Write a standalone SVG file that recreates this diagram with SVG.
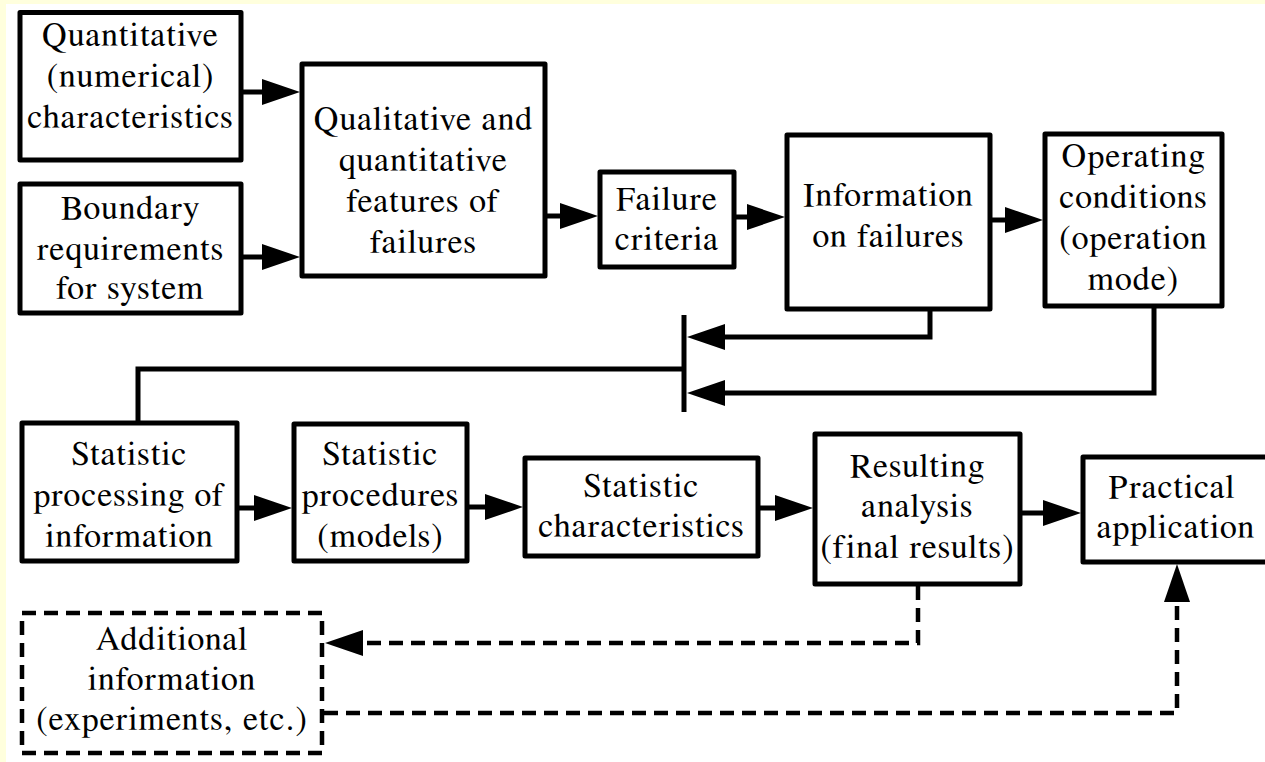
<svg xmlns="http://www.w3.org/2000/svg" width="1265" height="762" viewBox="0 0 1265 762">
<style>
.bg{fill:#ffffff}
.band{fill:#ffffdd}
.box{fill:#ffffff;stroke:#000;stroke-width:5;stroke-linejoin:round}
.dbox{fill:#ffffff;stroke:#000;stroke-width:4.5;stroke-dasharray:14 8}
text{font-family:FreeSerif,'Liberation Serif',serif;font-size:34px;letter-spacing:1.1px;fill:#000;text-anchor:middle}
.c{fill:none;stroke:#000;stroke-width:5}
.d{fill:none;stroke:#000;stroke-width:4.5;stroke-dasharray:14 8}
</style>
<defs>
<marker id="ah" markerUnits="userSpaceOnUse" markerWidth="40" markerHeight="28" refX="18" refY="13" orient="auto">
<path d="M0,0 L38,13 L0,26 z" fill="#000"/>
</marker>
</defs>
<rect class="bg" x="0" y="0" width="1265" height="762"/>
<rect class="band" x="0" y="0" width="1265" height="4"/>
<rect class="band" x="0" y="0" width="6" height="762"/>

<g id="connectors">
<path class="c" d="M243,92 H280" marker-end="url(#ah)"/>
<path class="c" d="M243,257 H280" marker-end="url(#ah)"/>
<path class="c" d="M547,216 H578" marker-end="url(#ah)"/>
<path class="c" d="M736,217 H765" marker-end="url(#ah)"/>
<path class="c" d="M992,220 H1023" marker-end="url(#ah)"/>
<path class="c" d="M930,311 V337 H707" marker-end="url(#ah)"/>
<path class="c" d="M1154,308 V393 H707" marker-end="url(#ah)"/>
<path class="c" d="M684,315 V412"/>
<path class="c" d="M684,369 H138 V421"/>
<path class="c" d="M239,508 H272" marker-end="url(#ah)"/>
<path class="c" d="M469,507 H503" marker-end="url(#ah)"/>
<path class="c" d="M760,508 H793" marker-end="url(#ah)"/>
<path class="c" d="M1022,513 H1061" marker-end="url(#ah)"/>
<path class="d" d="M918,586 V643 H345" marker-end="url(#ah)"/>
<path class="d" d="M324,713 H1177 V584" marker-end="url(#ah)"/>
</g>

<g id="n1">
<rect class="box" x="20" y="12.5" width="221" height="147.5"/>
<text x="130.5" y="46">Quantitative</text>
<text x="130.5" y="87">(numerical)</text>
<text x="130.5" y="128">characteristics</text>
</g>
<g id="n2">
<rect class="box" x="20" y="184" width="221" height="129"/>
<text x="130.5" y="219">Boundary</text>
<text x="130.5" y="260">requirements</text>
<text x="130.5" y="299">for system</text>
</g>
<g id="n3">
<rect class="box" x="302" y="64" width="243" height="212"/>
<text x="423.5" y="130">Qualitative and</text>
<text x="423.5" y="171">quantitative</text>
<text x="423.5" y="212">features of</text>
<text x="423.5" y="253">failures</text>
</g>
<g id="n4">
<rect class="box" x="600" y="172" width="134" height="95"/>
<text x="667" y="210">Failure</text>
<text x="667" y="250">criteria</text>
</g>
<g id="n5">
<rect class="box" x="787" y="135" width="203" height="174"/>
<text x="888.5" y="206">Information</text>
<text x="888.5" y="247">on failures</text>
</g>
<g id="n6">
<rect class="box" x="1045" y="134" width="177" height="172"/>
<text x="1133.5" y="167">Operating</text>
<text x="1133.5" y="208">conditions</text>
<text x="1133.5" y="249">(operation</text>
<text x="1133.5" y="290">mode)</text>
</g>
<g id="n7">
<rect class="box" x="22" y="423" width="215" height="138"/>
<text x="129.5" y="465">Statistic</text>
<text x="129.5" y="506">processing of</text>
<text x="129.5" y="547">information</text>
</g>
<g id="n8">
<rect class="box" x="294" y="424" width="173" height="137"/>
<text x="380.5" y="465">Statistic</text>
<text x="380.5" y="506">procedures</text>
<text x="380.5" y="547">(models)</text>
</g>
<g id="n9">
<rect class="box" x="525" y="458" width="233" height="98"/>
<text x="641.5" y="497">Statistic</text>
<text x="641.5" y="537">characteristics</text>
</g>
<g id="n10">
<rect class="box" x="815" y="434" width="205" height="150"/>
<text x="917.5" y="477">Resulting</text>
<text x="917.5" y="517">analysis</text>
<text x="917.5" y="558">(final results)</text>
</g>
<g id="n11">
<rect class="box" x="1083" y="457" width="200" height="105"/>
<text x="1172" y="498">Practical</text>
<text x="1176" y="538">application</text>
</g>
<g id="n12">
<rect class="dbox" x="22" y="613" width="300" height="140"/>
<text x="172" y="650">Additional</text>
<text x="172" y="690">information</text>
<text x="172" y="730">(experiments, etc.)</text>
</g>
</svg>
